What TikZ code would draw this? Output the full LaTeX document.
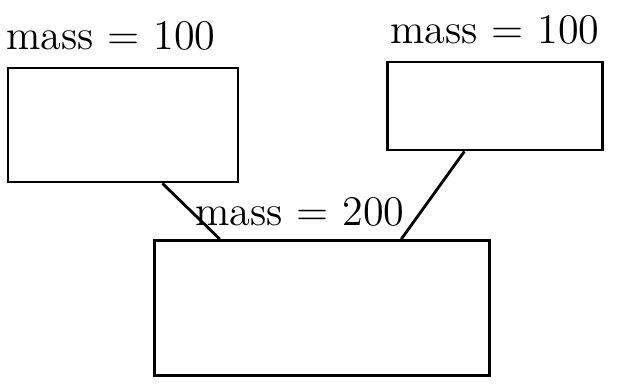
\documentclass[tikz,border=0pt]{standalone}
\usepackage{amsmath}
\usetikzlibrary{positioning}

\begin{document}
\begin{tikzpicture}[massbox/.style={draw, rectangle, line width=0.8pt, inner sep=0pt},
		masslabel/.style={font=\large, inner sep=1pt}]
				\useasboundingbox (0, 0) rectangle (6.18, 3.86);
				\node[massbox, minimum width=2.30cm, minimum height=1.14cm] (M1)at(1.23, 2.61) {};
				\node[massbox, minimum width=2.15cm, minimum height=0.88cm] (M2)at(4.95, 2.80) {};
				\node[massbox, minimum width=3.35cm, minimum height=1.35cm] (M3)at(3.22, 0.78) {};
				\node[masslabel, above=0.12cm of M1, xshift=-0.12cm] (L1) {mass = 100};
				\node[masslabel, above=0.12cm of M2] (L2) {mass = 100};
				\node[masslabel, above=0.08cm of M3, xshift=-0.22cm] (L3) {mass = 200};
				\draw[line width=0.8pt] (M1.-56) -- (M3.146);
				\draw[line width=0.8pt] (M2.-124) -- (M3.41);
			\end{tikzpicture}
\end{document}
